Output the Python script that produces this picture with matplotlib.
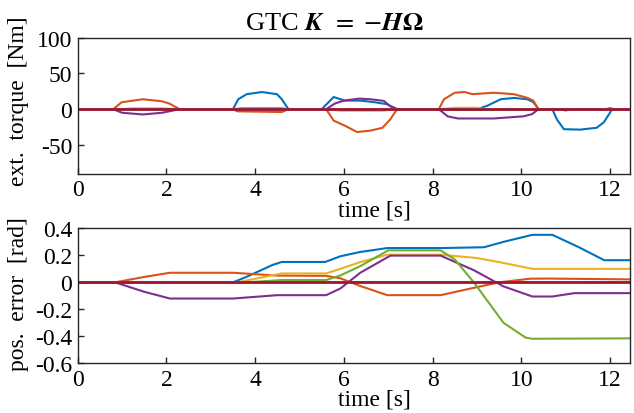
import matplotlib
matplotlib.use('Agg')
import matplotlib.pyplot as plt

plt.rcParams['font.family'] = ['Liberation Serif', 'DejaVu Serif']
plt.rcParams['mathtext.fontset'] = 'stix'
plt.rcParams['axes.unicode_minus'] = False
plt.rcParams['font.size'] = 17

# MATLAB default line colours, joints 1..7
colors = ['#0072BD', '#D95319', '#EDB120', '#7E2F8E', '#77AC30', '#4DBEEE', '#A2142F']

# external torque [Nm], one (time, value) pair of lists per joint
tau1_t = [0, 3.5, 3.62, 3.81, 4.15, 4.49, 4.6, 4.75, 5.5, 5.77, 6.02, 6.37, 6.66, 6.97, 7.2,
          9.0, 9.24, 9.54, 9.84, 10.13, 10.27, 10.39, 10.7, 10.8, 10.96, 11.33, 11.7, 11.86, 12.05, 12.45]
tau1_v = [0, 0, 14, 21, 24, 21, 14, 0, 0, 17, 12, 12, 10, 7, 0,
          0, 5, 14, 15.7, 14, 10, 0, 0, -14, -28, -28.6, -26, -18.5, 0, 0]
tau2_t = [0, 0.8, 0.99, 1.47, 1.9, 2.06, 2.3, 3.5, 3.6, 4.6, 4.75, 5.6, 5.77, 6.02, 6.3, 6.6,
          6.87, 7.05, 7.2, 8.14, 8.26, 8.5, 8.72, 8.9, 9.38, 9.83, 10.13, 10.27, 10.39,
          10.9, 11.0, 11.1, 11.9, 12.0, 12.1, 12.45]
tau2_v = [0, 0, 9.7, 13.9, 11, 8, 0, 0, -3, -4, 0, 0, -16, -23, -32, -30,
          -26, -14, 0, 0, 14, 23, 24, 21, 23, 21, 16, 12, 0,
          0, -2, 0, 0, 1.5, 0, 0]
tau3_t = [0, 8.2, 8.5, 9.0, 9.2, 12.45]
tau3_v = [0, 0, 2, 2, 0, 0]
tau4_t = [0, 0.8, 1.0, 1.47, 1.9, 2.3, 3.5, 3.7, 4.6, 4.75, 5.6, 5.8, 6.0, 6.35, 6.6, 6.9,
          7.05, 7.2, 8.14, 8.34, 8.57, 9.38, 10.05, 10.24, 10.39, 12.45]
tau4_v = [0, 0, -5, -7.4, -5, 0, 0, 1, 1, 0, 0, 8, 12, 14.8, 13.9, 11.6,
          4, 0, 0, -10, -13, -13, -10, -7, 0, 0]
tau5_t = [0, 5.6, 5.9, 6.9, 7.2, 8.3, 8.5, 10.1, 10.3, 12.45]
tau5_v = [0, 0, -1.8, -1.8, 0, 0, -1, -1, 0, 0]
tau6_t = [0, 1.0, 1.2, 1.9, 2.3, 12.45]
tau6_v = [0, 0, 1, 1, 0, 0]
tau7_t = [0, 12.45]
tau7_v = [0, 0]

# position error [rad]
q1_t = [0, 3.5, 3.8, 4.4, 4.6, 5.58, 5.92, 6.37, 6.98, 8.2, 9.16, 9.6, 10.25, 10.7, 11.3, 11.87, 12.45]
q1_v = [0, 0, 0.04, 0.13, 0.151, 0.151, 0.193, 0.225, 0.254, 0.254, 0.26, 0.3, 0.352, 0.352, 0.26, 0.164, 0.164]
q2_t = [0, 0.84, 1.5, 2.08, 3.5, 4.5, 5.6, 5.92, 6.37, 6.98, 8.18, 8.8, 9.5, 10.2, 10.6, 12.45]
q2_v = [0, 0, 0.04, 0.071, 0.071, 0.05, 0.048, 0.03, -0.027, -0.095, -0.095, -0.05, 0.0, 0.027, 0.028, 0.022]
q3_t = [0, 3.6, 4.6, 5.6, 5.92, 6.37, 6.98, 8.18, 9.0, 9.5, 10.25, 12.45]
q3_v = [0, 0, 0.066, 0.066, 0.1, 0.15, 0.205, 0.205, 0.18, 0.15, 0.1, 0.1]
q4_t = [0, 0.84, 1.5, 2.08, 3.5, 4.5, 5.6, 5.92, 6.37, 7.05, 8.18, 8.93, 9.6, 10.25, 10.7, 11.2, 12.45]
q4_v = [0, 0, -0.07, -0.12, -0.12, -0.095, -0.095, -0.046, 0.071, 0.198, 0.198, 0.09, -0.03, -0.105, -0.105, -0.08, -0.08]
q5_t = [0, 3.8, 4.6, 5.6, 5.92, 6.37, 7.0, 8.18, 8.5, 8.93, 9.6, 10.1, 10.25, 12.45]
q5_v = [0, 0, 0.017, 0.017, 0.051, 0.12, 0.237, 0.237, 0.17, 0.0, -0.3, -0.41, -0.418, -0.415]
q6_t = [0, 12.45]
q6_v = [0, 0]
q7_t = [0, 12.45]
q7_v = [0, 0]

tau_series = [(tau1_t, tau1_v), (tau2_t, tau2_v), (tau3_t, tau3_v), (tau4_t, tau4_v),
              (tau5_t, tau5_v), (tau6_t, tau6_v), (tau7_t, tau7_v)]
q_series = [(q1_t, q1_v), (q2_t, q2_v), (q3_t, q3_v), (q4_t, q4_v),
            (q5_t, q5_v), (q6_t, q6_v), (q7_t, q7_v)]

fig = plt.figure(figsize=(6.34, 4.14), dpi=100)
ax1 = fig.add_axes([0.1226, 0.5785, 0.871, 0.328])
ax2 = fig.add_axes([0.1226, 0.12, 0.871, 0.326])


def style_axes(ax):
    for sp in ax.spines.values():
        sp.set_color('#262626')
        sp.set_linewidth(1.0)
    ax.tick_params(direction='in', length=4, width=1.0, color='#262626',
                   labelcolor='black', pad=4)
    ax.set_xlim(0, 12.45)
    ax.set_xticks([0, 2, 4, 6, 8, 10, 12])
    ax.set_xlabel('time [s]')
    ax.xaxis.set_label_coords(0.538, -0.19)


for i, (t, v) in enumerate(tau_series):
    ax1.plot(t, v, color=colors[i], lw=2.0 if i == 6 else 1.5)
ax1.set_ylim(-90, 100)
ax1.set_yticks([-50, 0, 50, 100])
ax1.set_ylabel('ext.  torque  [Nm]')
ax1.yaxis.set_label_coords(-0.088, 0.54)
style_axes(ax1)
ax1.set_title(r'GTC $\boldsymbol{K}\ \,{=}\ {-}\boldsymbol{H\Omega}$', fontsize=19,
              x=0.465, pad=6)

for i, (t, v) in enumerate(q_series):
    ax2.plot(t, v, color=colors[i], lw=2.0 if i == 6 else 1.5)
ax2.set_ylim(-0.6, 0.4)
ax2.set_yticks([-0.6, -0.4, -0.2, 0, 0.2, 0.4])
ax2.set_yticklabels(['-0.6', '-0.4', '-0.2', '0', '0.2', '0.4'])
ax2.set_ylabel('pos.  error  [rad]')
ax2.yaxis.set_label_coords(-0.088, 0.52)
style_axes(ax2)

fig.savefig('out.png', dpi=100)
